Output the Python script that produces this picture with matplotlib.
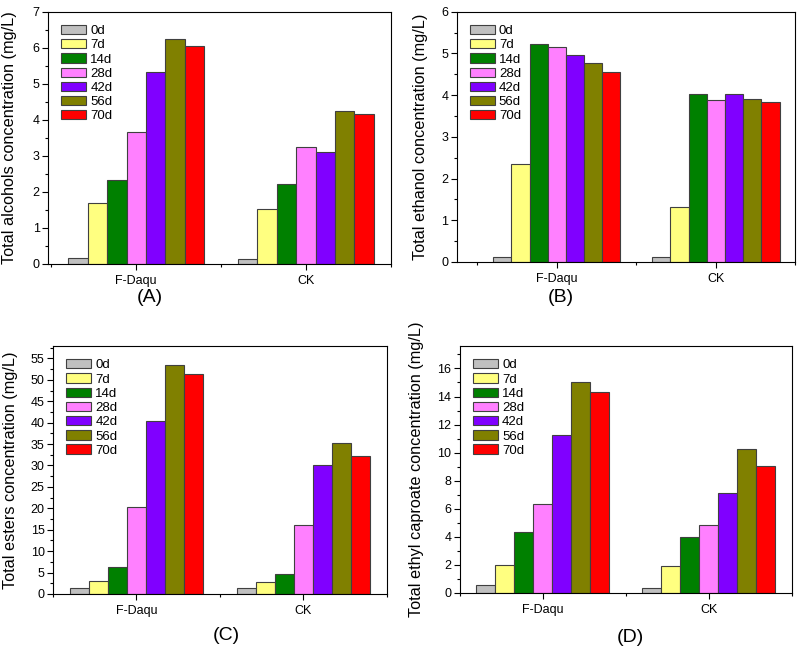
import matplotlib
matplotlib.use("Agg")
import matplotlib.pyplot as plt
import numpy as np
from matplotlib.ticker import MultipleLocator, FixedLocator

plt.rcParams['font.family'] = ['Liberation Sans', 'DejaVu Sans']

groups = ["F-Daqu", "CK"]
days = ["0d", "7d", "14d", "28d", "42d", "56d", "70d"]
colors = ["#C0C0C0", "#FFFF80", "#008000", "#FF80FF", "#8000FF", "#808000", "#FF0000"]

# rows = days, columns = [F-Daqu, CK]
alcohols = [[0.16, 0.14], [1.69, 1.52], [2.34, 2.23], [3.65, 3.24],
            [5.34, 3.10], [6.25, 4.24], [6.05, 4.16]]
ethanol = [[0.11, 0.12], [2.35, 1.32], [5.22, 4.03], [5.15, 3.88],
           [4.96, 4.02], [4.78, 3.91], [4.56, 3.84]]
esters = [[1.4, 1.3], [3.1, 2.9], [6.3, 4.6], [20.4, 16.2],
          [40.3, 30.1], [53.5, 35.2], [51.4, 32.1]]
caproate = [[0.57, 0.38], [1.99, 1.89], [4.35, 4.00], [6.36, 4.82],
            [11.23, 7.14], [15.06, 10.24], [14.35, 9.05]]


def bar_panel(rect, data, ylabel, ylim, major, minor, xlim, label_x):
    ax = fig.add_axes(rect)
    x = np.arange(1, len(groups) + 1)
    width = 0.8 / len(days)
    for i, day in enumerate(days):
        offset = (i - (len(days) - 1) / 2) * width
        ax.bar(x + offset, data[i], width, color=colors[i], edgecolor="#404040",
               linewidth=0.8, label=day, zorder=2)
    ax.set_xlim(*xlim)
    ax.set_ylim(*ylim)
    ax.set_xticks(x)
    ax.set_xticklabels(groups)
    ax.xaxis.set_minor_locator(FixedLocator([0.5, 1.5, 2.5]))
    ax.yaxis.set_major_locator(MultipleLocator(major))
    ax.yaxis.set_minor_locator(MultipleLocator(minor))
    ax.tick_params(axis="both", which="major", direction="out", length=4,
                   width=0.8, labelsize=9)
    ax.tick_params(axis="x", which="major", pad=4)
    ax.tick_params(axis="y", which="major", pad=2)
    ax.tick_params(axis="both", which="minor", direction="out", length=2.5, width=0.8)
    for s in ax.spines.values():
        s.set_linewidth(0.8)
    ax.set_ylabel(ylabel, fontsize=11.7)
    ax.yaxis.set_label_coords(label_x, 0.5)
    ax.legend(loc="upper left", frameon=False, fontsize=9.5, handlelength=1.9,
              handleheight=0.7, labelspacing=0.15, handletextpad=0.3,
              borderaxespad=0.6)
    return ax


fig = plt.figure(figsize=(7.97, 6.5), dpi=100)

bar_panel([0.0602, 0.594, 0.430, 0.388], alcohols,
          "Total alcohols concentration (mg/L)", (0, 7), 1, 0.5, (0.48, 2.5), -0.09)
bar_panel([0.573, 0.597, 0.425, 0.385], ethanol,
          "Total ethanol concentration (mg/L)", (0, 6), 1, 0.5, (0.37, 2.5), -0.086)
bar_panel([0.0665, 0.0862, 0.419, 0.3815], esters,
          "Total esters concentration (mg/L)", (0, 57.9), 5, 2.5, (0.5, 2.5), -0.104)
bar_panel([0.577, 0.0877, 0.4166, 0.380], caproate,
          "Total ethyl caproate concentration (mg/L)", (0, 17.6), 2, 1, (0.5, 2.5), -0.108)

fig.text(150 / 797, 1 - 298 / 650, "(A)", fontsize=14, ha="center", va="center")
fig.text(561 / 797, 1 - 297 / 650, "(B)", fontsize=14, ha="center", va="center")
fig.text(226 / 797, 1 - 636 / 650, "(C)", fontsize=14, ha="center", va="center")
fig.text(630 / 797, 1 - 638 / 650, "(D)", fontsize=14, ha="center", va="center")

fig.savefig("out.png", dpi=100)
